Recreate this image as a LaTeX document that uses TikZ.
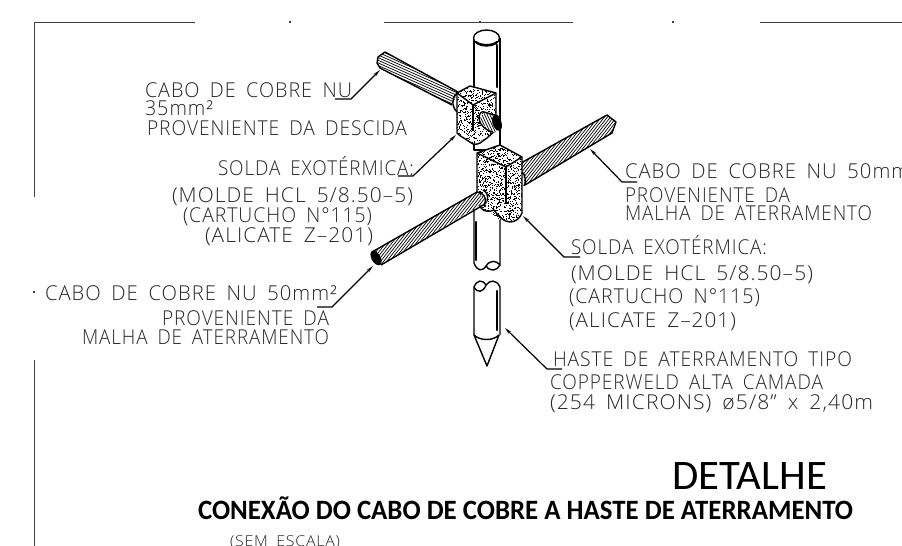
\documentclass[tikz,border=0pt]{standalone}
\usepackage{fontspec}
\usepackage{graphicx}
\usetikzlibrary{arrows.meta,calc}
\setmainfont[LetterSpace=5,WordSpace=1.7]{Open Sans Light}
\newfontfamily\titlefont{Carlito}
\newsavebox{\lblbox}
% fit text to exact width
\newcommand{\fitw}[2]{\sbox{\lblbox}{#2}\pgfmathsetmacro{\fitr}{#1/(\wd\lblbox/1pt)}\scalebox{\fitr}[1]{\usebox{\lblbox}}}
\newcommand{\lbl}[5]{\node[lab] (#1) at (#2,#3) {\fitw{#4}{#5}};}
\tikzset{
 lab/.style={anchor=base west,inner sep=0pt,outer sep=0pt,font=\fontsize{20.5}{20.5}\selectfont,text=black!85},
 ttl/.style={anchor=base west,inner sep=0pt,outer sep=0pt},
 framel/.style={line width=1pt,draw=black!75},
 leader/.style={line width=1.2pt,-{Stealth[length=7pt,width=3pt]}},
 outl/.style={line width=1.4pt,draw=black,line join=round},
 strand/.style={line width=.7pt,draw=black},
 heavy/.style={line width=2.2pt,draw=black,line cap=round},
}
\newcommand{\stip}[5]{% x0 y0 w h n
 \foreach \ii in {1,...,#5}{\pgfmathsetmacro{\sx}{#1+rnd*#3}\pgfmathsetmacro{\sy}{#2+rnd*#4}
  \fill[black] (\sx,\sy) rectangle ++(.7,.7);}}
\newcommand{\hatchlines}[4]{% cx cy angle halfcount
 \begin{scope}[shift={(#1,#2)},rotate=#3]
 \foreach \dd in {-#4,...,#4}{\draw[strand] (-120,\dd*2.4) -- (120,\dd*2.4);}
 \end{scope}}
\begin{document}
\begin{tikzpicture}[x=1pt,y=-1pt]
\useasboundingbox (0,0) rectangle (902,546);
\fill[white] (0,0) rectangle (902,546);
\pgfmathsetseed{1234}
% frame
\draw[framel] (195,22) -- (34,22) -- (34,197);
\draw[framel] (34,360) -- (34,546);
\draw[framel] (384,22) -- (573,22);
\draw[framel] (760,22) -- (902,22);
\foreach \px/\py in {290/22,480/22,673/22,34/292}{\fill[black!75] (\px-.7,\py-.6) rectangle (\px+.7,\py+.6);}

% rod upper part
\draw[outl,fill=white] (474,38) -- (474,150) -- (500,150) -- (500,38);
\draw[outl,fill=white] (486.5,38) ellipse (13 and 8);
\draw[heavy] (476,42) .. controls (480,46) and (493,46) .. (497,42);
\draw[heavy] (497,45) -- (497,87);
% rod lower part
\draw[outl] (474,205) -- (474,263) .. controls (477,271) and (482,272) .. (486,266) .. controls (490,260) and (496,260) .. (500,265) -- (500,205);
\draw[outl] (486,266) .. controls (490,272) and (497,271) .. (500,265);
\draw[heavy] (476,222) -- (476,260);
% rod bottom piece with point
\draw[outl] (474,335) -- (474,287) .. controls (477,280) and (482,279) .. (486,285) .. controls (490,280) and (496,279) .. (500,287) -- (500,335);
\draw[outl] (474,287) .. controls (477,293) and (483,293) .. (486,285);
\draw[heavy] (497,291) -- (497,330);
\draw[outl] (474,335) -- (487,366) -- (499,335);
\draw[outl] (474,335) .. controls (480,341) and (493,341) .. (499,335);

% top-left cable
\begin{scope}
 \clip (385,52) -- (378,57) -- (377,63) -- (380,68) -- (452,105) -- (458,92) -- cycle;
 \hatchlines{418}{78}{-24}{13}
\end{scope}
\draw[outl] (385,52) -- (378,57) -- (377,63) -- (380,68) -- (452,105);
\draw[outl] (385,52) -- (458,92);

% upper-right cable
\begin{scope}
 \clip (607,115) -- (616,122) -- (612,133) -- (525,185) -- (521,163) -- cycle;
 \hatchlines{568}{148}{52}{38}
\end{scope}
\draw[outl] (521,163) -- (607,115) -- (616,122) -- (612,133) -- (525,185);

% small block
\path[fill=white] (457,93) -- (470,86) -- (496,93) -- (496,130) -- (487,138) -- (473,144) -- (457,133) -- cycle;
\begin{scope}
 \clip (457,93) -- (470,86) -- (496,93) -- (496,130) -- (487,138) -- (473,144) -- (457,133) -- cycle;
 \stip{455}{84}{43}{62}{720}
\end{scope}
\draw[outl] (457,93) -- (470,86) -- (496,93) -- (496,130) -- (487,138) -- (480,143) .. controls (476,145) and (474,144) .. (473,144) -- (459,135) -- (457,133) -- cycle;
\draw[outl] (457,93) -- (473,105) -- (496,93);
\draw[outl] (473,105) -- (473,131);
\draw[outl] (457,93) .. controls (452,97) and (451,106) .. (457,112);
% small stub of the cable
\begin{scope}
 \clip (484,112) -- (499,116) -- (497,132) -- (490,132) -- (479,120) -- cycle;
 \fill[white] (475,105) rectangle (500,135);
 \hatchlines{488}{122}{-65}{7}
\end{scope}
\draw[outl] (484,112) -- (498,116);
\draw[outl] (479,118) .. controls (480,126) and (486,130) .. (492,132);
\draw[outl] (479,118) .. controls (479,113) and (482,111) .. (484,112);
\fill[black,rotate around={20:(497,123)}] (497,123) ellipse (4.5 and 8);

% large block
\path[fill=white] (477,153) -- (500,145) -- (522,157) -- (522,213) -- (513,222) -- (500,220) -- (490,212) -- (482,210) -- (477,190) -- cycle;
\begin{scope}
 \clip (477,153) -- (500,145) -- (522,157) -- (522,213) -- (513,222) -- (500,220) -- (490,212) -- (482,210) -- (477,190) -- cycle;
 \stip{474}{143}{50}{82}{1350}
\end{scope}
\draw[outl] (477,153) -- (500,145) -- (522,157) -- (522,213) .. controls (520,218) and (516,222) .. (510,222) .. controls (504,222) and (498,216) .. (494,210) .. controls (490,212) and (484,212) .. (481,208) -- (477,200) -- cycle;
\draw[outl] (477,153) -- (506,167) -- (522,157);
\draw[outl] (506,167) -- (506,203);
\draw[outl] (522,172) .. controls (526,175) and (526,183) .. (524,186);

% lower-left cable
\draw[outl,fill=white] (483,190) arc (-70:70:7 and 8);
\begin{scope}
 \clip (372,252) -- (477,192) -- (487,201) -- (381,265) -- cycle;
 \fill[white] (370,190) rectangle (490,270);
 \hatchlines{428}{228}{52}{38}
\end{scope}
\draw[outl] (372,252) -- (477,192);
\draw[outl] (381,265) -- (485,204);
\draw[outl] (477,192) .. controls (483,192) and (487,198) .. (485,204);
\fill[black,rotate around={30:(376,258)}] (376,258) ellipse (4.5 and 8);

% leaders
\coordinate (l1a) at (335,99); \coordinate (l1b) at (351,99); \coordinate (l1c) at (380,70);
\draw[leader] (l1a) -- (l1b) -- (l1c);
\coordinate (l2a) at (398,176); \coordinate (l2b) at (413,176); \coordinate (l2c) at (456,135);
\draw[leader] (l2a) -- (l2b) -- (l2c);
\coordinate (l3a) at (580,257); \coordinate (l3b) at (564,257); \coordinate (l3c) at (523,216);
\draw[leader] (l3a) -- (l3b) -- (l3c);
\coordinate (l4a) at (562,369); \coordinate (l4b) at (547,369); \coordinate (l4c) at (505,328);
\draw[leader] (l4a) -- (l4b) -- (l4c);
\coordinate (l5a) at (317,307); \coordinate (l5b) at (332,307); \coordinate (l5c) at (373,266);
\draw[leader] (l5a) -- (l5b) -- (l5c);
\coordinate (l6a) at (637,182); \coordinate (l6b) at (622,182); \coordinate (l6c) at (590,149);
\draw[leader] (l6a) -- (l6b) -- (l6c);

% labels
\lbl{t1}{145}{97}{207}{CABO DE COBRE NU}
\lbl{t2}{145}{115}{68}{35mm²}
\lbl{t3}{147}{135}{260}{PROVENIENTE DA DESCIDA}
\lbl{t4}{218}{175}{196}{SOLDA EXOTÉRMICA:}
\lbl{t5}{172}{202}{241}{(MOLDE HCL 5/8.50–5)}
\lbl{t6}{183}{222}{189}{(CARTUCHO N°115)}
\lbl{t7}{205}{242}{168}{(ALICATE Z–201)}
\lbl{t8}{45}{300}{292}{CABO DE COBRE NU 50mm²}
\lbl{t9}{162}{325}{167}{PROVENIENTE DA}
\lbl{t10}{82}{344}{247}{MALHA DE ATERRAMENTO}
\lbl{t11}{625}{178}{292}{CABO DE COBRE NU 50mm²}
\lbl{t12}{625}{202}{165}{PROVENIENTE DA}
\lbl{t13}{625}{220}{247}{MALHA DE ATERRAMENTO}
\lbl{t14}{571}{254}{196}{SOLDA EXOTÉRMICA:}
\lbl{t15}{571}{280}{242}{(MOLDE HCL 5/8.50–5)}
\lbl{t16}{569}{303}{191}{(CARTUCHO N°115)}
\lbl{t17}{569}{327}{167}{(ALICATE Z–201)}
\lbl{t18}{553}{366}{299}{HASTE DE ATERRAMENTO TIPO}
\lbl{t19}{550}{389}{273}{COPPERWELD ALTA CAMADA}
\lbl{t20}{550}{409}{323}{(254 MICRONS) ø5/8” x 2,40m}
\node[lab,font=\fontsize{15}{15}\selectfont] (t21) at (230,546) {\fitw{110}{(SEM ESCALA)}};
\node[ttl,font=\titlefont\fontsize{42}{42}\selectfont] (t22) at (672,489) {\fitw{155}{DETALHE}};
\node[ttl,font=\titlefont\bfseries\fontsize{28}{28}\selectfont] (t23) at (198,519) {\fitw{655}{CONEXÃO DO CABO DE COBRE A HASTE DE ATERRAMENTO}};
\end{tikzpicture}
\end{document}
